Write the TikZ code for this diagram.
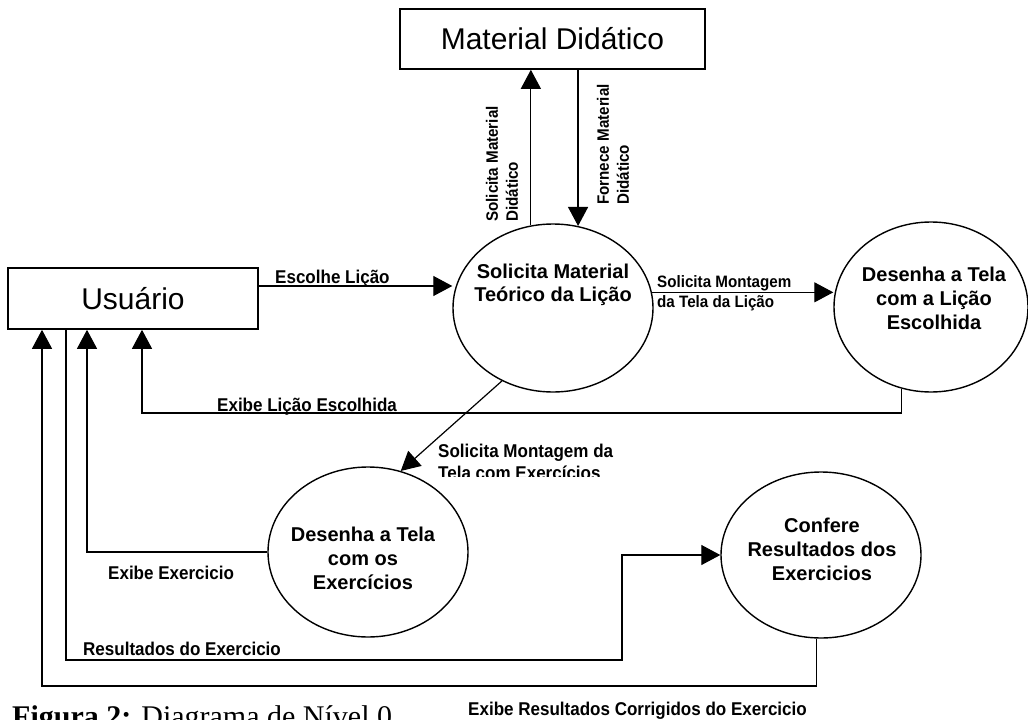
\documentclass[tikz,border=0pt]{standalone}
\usepackage{fontspec}
\setmainfont{Liberation Sans}
\newfontfamily\lblfont[FakeStretch=0.92]{Liberation Sans}
\newfontfamily\capfont{Liberation Serif}
\usetikzlibrary{arrows.meta,shapes.geometric}
\begin{document}
\begin{tikzpicture}[x=1pt,y=-1pt,
  box/.style={draw,rectangle,line width=1.6pt,inner sep=0pt,font=\fontsize{30}{32}\selectfont},
  proc/.style={draw,ellipse,line width=1.4pt,inner sep=0pt},
  ptext/.style={inner sep=0pt,align=center,font=\bfseries\fontsize{20}{24}\selectfont},
  arr/.style={line width=1.2pt,-{Triangle[length=19pt,width=20pt]}},
  lbl/.style={inner sep=0pt,align=left,font=\lblfont\bfseries\fontsize{18.5}{22}\selectfont},
  slbl/.style={inner sep=0pt,align=left,font=\lblfont\bfseries\fontsize{16.5}{20}\selectfont},
  capstyle/.style={inner sep=0pt,font=\capfont\fontsize{30}{32}\selectfont}]
\useasboundingbox (0,0) rectangle (1028,720);
\clip (0,0) rectangle (1028,720);
\fill[white] (0,0) rectangle (1028,720);

% external entities
\node[box,minimum width=305pt,minimum height=60pt] (mat) at (552.5,39) {Material Didático};
\node[box,minimum width=250pt,minimum height=61pt] (usu) at (133,298.5) {Usuário};

% processes
\node[proc,minimum width=200pt,minimum height=168pt] (e1) at (553,308) {};
\node[ptext,font=\bfseries\fontsize{20}{23}\selectfont] (t1) at (553,284.5) {Solicita Material\\Teórico da Lição};
\node[proc,minimum width=194pt,minimum height=170pt] (e2) at (931,307) {};
\node[ptext] (t2) at (934,298) {Desenha a Tela\\com a Lição\\Escolhida};
\node[proc,minimum width=200pt,minimum height=170pt] (e3) at (368,552) {};
\node[ptext] (t3) at (363,558) {Desenha a Tela\\com os\\Exercícios};
\node[proc,minimum width=200pt,minimum height=166pt] (e4) at (821,555) {};
\node[ptext] (t4) at (822,549) {Confere\\Resultados dos\\Exercicios};

% helper coordinates
\coordinate (yEsc) at (0,286);
\coordinate (cLic) at (142,413);
\coordinate (xExe) at (87,0);
\coordinate (xRes) at (66,0);
\coordinate (cRes) at (622,660);
\coordinate (cOut) at (42,686);

% connectors
\draw[arr] (usu.east |- yEsc) -- (e1.west |- yEsc);
\draw[arr] (e1.105) -- (e1.105 |- mat.south);
\draw[arr] (e1.73 |- mat.south) -- (e1.73);
\draw[arr] (e1.9) -- (e1.9 -| e2.west);
\draw[arr] (e2.250) |- (cLic) -- (cLic |- usu.south);
\draw[arr] (e1.235) -- (e3.68);
\draw[arr] (e3.west) -| (xExe |- usu.south);
\draw[arr] (xRes |- usu.south) |- (cRes) |- (e4.west);
\draw[arr] (e4.267) |- (cOut) -- (cOut |- usu.south);

% labels
\node[lbl,anchor=base west] (lEsc) at (275,283) {Escolhe Lição};
\node[slbl,anchor=west] (lMon) at (657,293) {Solicita Montagem\\da Tela da Lição};
\node[lbl,anchor=base west] (lLic) at (217,411) {Exibe Lição Escolhida};
\begin{scope}
\clip (430,430) rectangle (720,476);
\node[lbl,anchor=north west] (lExM) at (438,444) {Solicita Montagem da\\Tela com Exercícios};
\end{scope}
\node[lbl,anchor=base west] (lExe) at (108,579.5) {Exibe Exercicio};
\node[lbl,anchor=base west] (lRes) at (83,655.5) {Resultados do Exercicio};
\node[lbl,anchor=base west] (lCor) at (468,715.5) {Exibe Resultados Corrigidos do Exercicio};
\node[slbl,rotate=90,anchor=west] (lSol) at (502,222) {Solicita Material\\Didático};
\node[slbl,rotate=90,anchor=west] (lFor) at (613,205) {Fornece Material\\Didático};

% caption
\node[capstyle,anchor=base west] (caption) at (12,726) {\textbf{Figura 2:} Diagrama de Nível 0};
\end{tikzpicture}
\end{document}
